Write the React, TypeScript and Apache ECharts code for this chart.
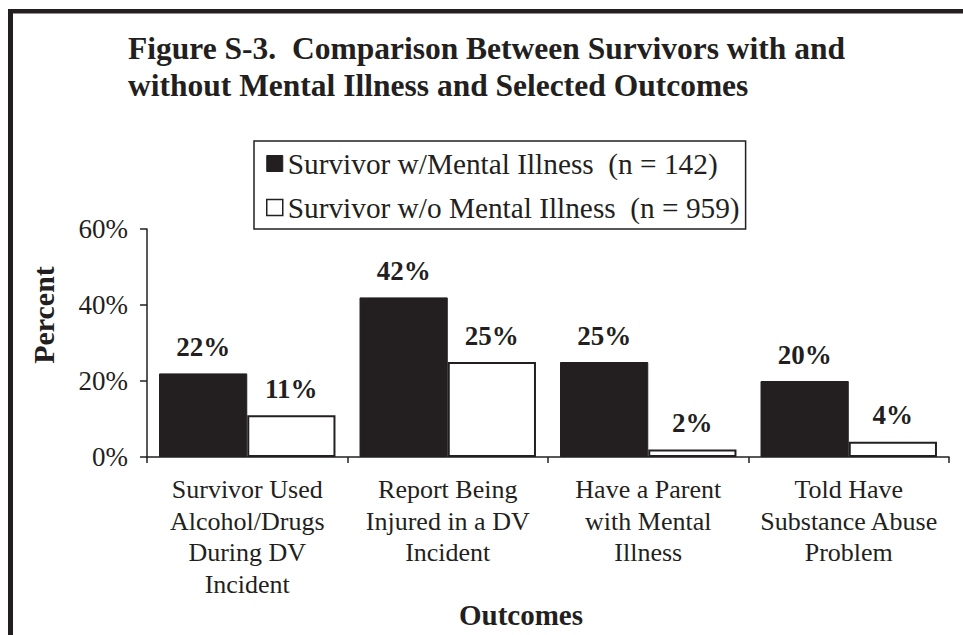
import React, { useEffect, useRef } from "react";
import * as echarts from "echarts";

const categories = [
  "Survivor Used\nAlcohol/Drugs\nDuring DV\nIncident",
  "Report Being\nInjured in a DV\nIncident",
  "Have a Parent\nwith Mental\nIllness",
  "Told Have\nSubstance Abuse\nProblem",
];
const withMentalIllness = [22, 42, 25, 20];
const withoutMentalIllness = [11, 25, 2, 4];
const seriesNames = [
  "Survivor w/Mental Illness  (n = 142)",
  "Survivor w/o Mental Illness  (n = 959)",
];
const titleText =
  "Figure S-3.  Comparison Between Survivors with and\nwithout Mental Illness and Selected Outcomes";

const INK = "#231f20";
const FONT = "'Liberation Serif', 'Times New Roman', serif";

export default function App() {
  const ref = useRef<HTMLDivElement>(null);
  useEffect(() => {
    if (!ref.current) return;
    const chart = echarts.init(ref.current, null, { renderer: "svg" });
    const barLabel = {
      show: true,
      position: "top",
      distance: 13,
      formatter: "{c}%",
      fontFamily: FONT,
      fontWeight: "bold",
      fontSize: 27,
      color: INK,
    };
    chart.setOption({
      animation: false,
      backgroundColor: "#ffffff",
      textStyle: { fontFamily: FONT, color: INK },
      title: {
        text: titleText,
        left: 128,
        top: 30,
        padding: 0,
        textStyle: {
          fontFamily: FONT,
          fontWeight: "bold",
          fontSize: 31.5,
          lineHeight: 37,
          color: INK,
        },
      },
      legend: {
        orient: "vertical",
        left: 254,
        top: 141,
        padding: [8, 6, 7, 12],
        itemGap: 15,
        itemWidth: 16,
        itemHeight: 16,
        borderColor: INK,
        borderWidth: 1.5,
        borderRadius: 0,
        icon: "rect",
        selectedMode: false,
        textStyle: {
          fontFamily: FONT,
          fontSize: 29.3,
          lineHeight: 29,
          color: INK,
        },
        data: [
          { name: seriesNames[0], itemStyle: { color: INK, borderColor: INK, borderWidth: 1 } },
          { name: seriesNames[1], itemStyle: { color: "#ffffff", borderColor: INK, borderWidth: 1.5 } },
        ],
      },
      grid: { left: 147, right: 14, top: 229, bottom: 178, containLabel: false },
      xAxis: {
        type: "category",
        data: categories,
        name: "Outcomes",
        nameLocation: "middle",
        nameGap: 135,
        nameTextStyle: {
          fontFamily: FONT,
          fontWeight: "bold",
          fontSize: 29,
          color: INK,
          padding: [0, 54, 0, 0],
        },
        axisLine: { show: true, lineStyle: { color: INK, width: 1.5 } },
        axisTick: { show: true, length: 6, lineStyle: { color: INK, width: 1.5 } },
        axisLabel: {
          interval: 0,
          fontFamily: FONT,
          fontSize: 26,
          lineHeight: 31.5,
          margin: 17,
          color: INK,
        },
        splitLine: { show: false },
      },
      yAxis: {
        type: "value",
        min: 0,
        max: 60,
        interval: 20,
        name: "Percent",
        nameLocation: "middle",
        nameRotate: 90,
        nameGap: 89,
        nameTextStyle: {
          fontFamily: FONT,
          fontWeight: "bold",
          fontSize: 30,
          color: INK,
          padding: [0, 0, 0, 56],
        },
        axisLine: { show: true, lineStyle: { color: INK, width: 1.5 } },
        axisTick: { show: true, length: 7, lineStyle: { color: INK, width: 1.5 } },
        axisLabel: {
          formatter: "{value}%",
          fontFamily: FONT,
          fontSize: 27,
          margin: 19,
          color: INK,
        },
        splitLine: { show: false },
      },
      series: [
        {
          name: seriesNames[0],
          type: "bar",
          data: withMentalIllness,
          barWidth: "44%",
          barGap: "0%",
          itemStyle: { color: INK, borderColor: INK, borderWidth: 1 },
          label: barLabel,
        },
        {
          name: seriesNames[1],
          type: "bar",
          data: withoutMentalIllness,
          barWidth: "44%",
          barGap: "0%",
          itemStyle: { color: "#ffffff", borderColor: INK, borderWidth: 2 },
          label: barLabel,
        },
      ],
      graphic: [
        { type: "rect", shape: { x: 8, y: 9, width: 5, height: 626 }, style: { fill: INK } },
        { type: "rect", shape: { x: 8, y: 9, width: 955, height: 4.5 }, style: { fill: INK } },
      ],
    });
    return () => chart.dispose();
  }, []);
  return (
    <div
      ref={ref}
      style={{ position: "absolute", left: 0, top: 0, width: 963, height: 635, background: "#fff" }}
    />
  );
}
